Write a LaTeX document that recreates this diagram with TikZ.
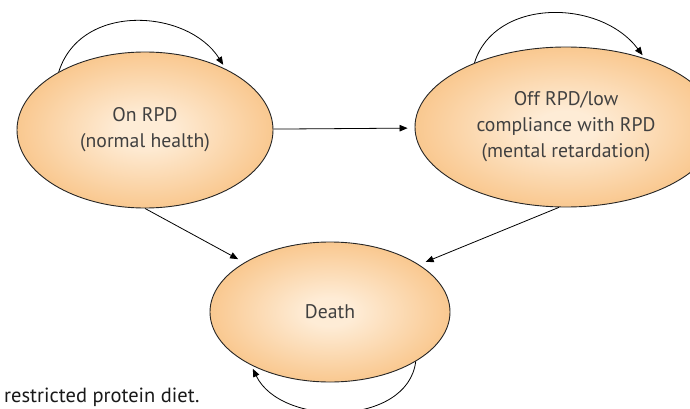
\documentclass[tikz,border=0pt]{standalone}
\usepackage{fontspec}
\setmainfont{PT Sans}
\usepackage{tikz}
\usetikzlibrary{arrows.meta,positioning,shapes}
\definecolor{statecore}{RGB}{254,236,214}
\definecolor{stateedge}{RGB}{247,184,112}
\definecolor{statetext}{RGB}{64,64,64}
\pgfdeclareradialshading{stateshade}{\pgfpoint{0bp}{0bp}}{color(0bp)=(statecore); color(5bp)=(statecore); color(34bp)=(stateedge); color(50bp)=(stateedge)}

\begin{document}
\begin{tikzpicture}[x=1pt,y=-1pt,
  state/.style={ellipse,draw=black!85,line width=0.9pt,shade,shading=stateshade,inner sep=0pt,align=center,text=statetext,font=\fontsize{19.7}{26}\selectfont},
  link/.style={line width=0.8pt,-{Triangle[length=8pt,width=6.5pt]},shorten >=7pt}]
\useasboundingbox (0,0) rectangle (690,409);
\node[state,minimum width=256pt,minimum height=156pt] (onrpd) at (145,130) {On RPD\\(normal health)};
\node[state,minimum width=302pt,minimum height=160pt] (offrpd) at (566,127) {Off RPD/low\\compliance with RPD\\(mental retardation)};
\node[state,minimum width=240pt,minimum height=140pt] (death) at (330,312) {Death};
\node[anchor=base west,inner sep=0pt,font=\fontsize{20.5}{24}\selectfont,text=black!90] (note) at (4,402.5) {restricted protein diet.};

\draw[link] (onrpd) -- (offrpd);
\draw[link] (onrpd.south) -- (death.150);
\draw[link] (offrpd.265) -- (death.28);
\draw[link,shorten >=5pt] (onrpd.146) .. controls +(22,-70) and +(-38,-60) .. (onrpd.37);
\draw[link,shorten >=4pt] (offrpd.145) .. controls +(20,-65) and +(-45,-60) .. (offrpd.41);
\draw[link,shorten >=4pt] (death.330) .. controls +(-8,65) and +(30,62) .. (death.214);
\end{tikzpicture}
\end{document}
